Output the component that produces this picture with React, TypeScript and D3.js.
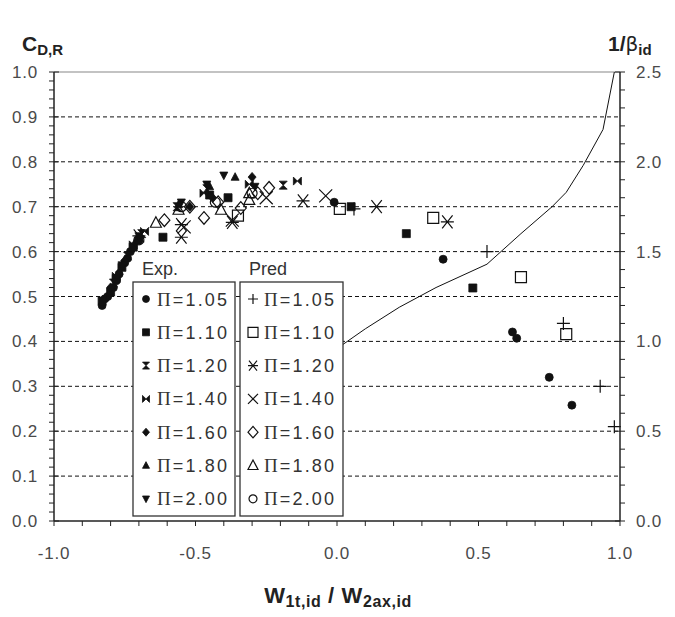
import React from "react";
import * as d3 from "d3";

const W = 675, H = 617;
const xTicks = [-1.0, -0.5, 0.0, 0.5, 1.0];
const yTicksL = [0, 0.1, 0.2, 0.3, 0.4, 0.5, 0.6, 0.7, 0.8, 0.9, 1.0];
const yTicksR = [0, 0.5, 1.0, 1.5, 2.0, 2.5];
const legendLabels = ["Π=1.05", "Π=1.10", "Π=1.20", "Π=1.40", "Π=1.60", "Π=1.80", "Π=2.00"];

// Experimental series (filled markers)
const exp105 = [[-0.83, 0.48], [-0.82, 0.495], [-0.81, 0.50], [-0.79, 0.52], [-0.78, 0.535], [-0.77, 0.55], [-0.75, 0.575], [-0.74, 0.585], [-0.73, 0.60], [-0.70, 0.625], [-0.01, 0.71], [0.375, 0.583], [0.62, 0.421], [0.635, 0.407], [0.75, 0.32], [0.83, 0.258]];
const exp110 = [[-0.83, 0.49], [-0.80, 0.51], [-0.78, 0.54], [-0.76, 0.565], [-0.72, 0.61], [-0.615, 0.632], [-0.45, 0.726], [-0.385, 0.72], [0.05, 0.70], [0.245, 0.64], [0.48, 0.519]];
const exp120 = [[-0.79, 0.53], [-0.74, 0.59], [-0.69, 0.64], [-0.565, 0.70], [-0.46, 0.74], [-0.19, 0.748]];
const exp140 = [[-0.78, 0.545], [-0.72, 0.615], [-0.68, 0.645], [-0.47, 0.73], [-0.31, 0.75], [-0.14, 0.757]];
const exp160 = [[-0.80, 0.52], [-0.75, 0.58], [-0.70, 0.63], [-0.52, 0.70], [-0.44, 0.72], [-0.30, 0.766]];
const exp180 = [[-0.77, 0.555], [-0.71, 0.625], [-0.56, 0.705], [-0.45, 0.745], [-0.36, 0.766]];
const exp200 = [[-0.76, 0.57], [-0.70, 0.635], [-0.55, 0.71], [-0.46, 0.75], [-0.40, 0.77], [-0.29, 0.745]];

// Predicted series (open markers)
const pred105 = [[0.06, 0.695], [0.53, 0.60], [0.80, 0.44], [0.93, 0.30], [0.98, 0.21]];
const pred110 = [[-0.35, 0.68], [0.01, 0.695], [0.34, 0.675], [0.65, 0.543], [0.81, 0.416]];
const pred120 = [[-0.70, 0.635], [-0.55, 0.632], [-0.55, 0.66], [-0.37, 0.665], [-0.12, 0.713], [0.14, 0.70], [0.39, 0.666]];
const pred140 = [[-0.54, 0.655], [-0.37, 0.67], [-0.25, 0.72], [-0.04, 0.724]];
const pred160 = [[-0.61, 0.67], [-0.52, 0.70], [-0.47, 0.675], [-0.42, 0.71], [-0.34, 0.697], [-0.28, 0.73], [-0.24, 0.742]];
const pred180 = [[-0.64, 0.664], [-0.56, 0.693], [-0.41, 0.693], [-0.31, 0.715], [-0.31, 0.73]];
const pred200 = [[-0.70, 0.626], [-0.55, 0.70], [-0.43, 0.71], [-0.30, 0.73]];

// 1/beta_id curve (right axis)
const betaX = [-0.10, 0.0, 0.10, 0.22, 0.35, 0.53, 0.65, 0.76, 0.81, 0.87, 0.94, 0.98];
const betaY = [0.86, 0.96, 1.07, 1.19, 1.30, 1.43, 1.60, 1.75, 1.83, 1.98, 2.18, 2.50];

type Mk = "circle" | "square" | "hourglass" | "bowtie" | "diamond" | "triUp" | "triDown" | "plus" | "sq" | "star" | "cross" | "dia" | "tri" | "ring";

function markerPath(m: Mk, s: number): string {
  const h = s / 2;
  switch (m) {
    case "circle": case "ring": return d3.symbol(d3.symbolCircle, s * s * 0.78)() as string;
    case "square": case "sq": return `M${-h},${-h}H${h}V${h}H${-h}Z`;
    case "hourglass": return `M${-h},${-h}H${h}L0,0L${h},${h}H${-h}L0,0Z`;
    case "bowtie": return `M${-h},${-h}V${h}L0,0L${h},${h}V${-h}L0,0Z`;
    case "diamond": case "dia": return `M0,${-h * 1.15}L${h},0L0,${h * 1.15}L${-h},0Z`;
    case "triUp": case "tri": return `M0,${-h * 1.1}L${h},${h * 0.8}H${-h}Z`;
    case "triDown": return `M0,${h * 1.1}L${h},${-h * 0.8}H${-h}Z`;
    case "plus": return `M${-h},0H${h}M0,${-h}V${h}`;
    case "star": return `M${-h * 0.8},${-h}L${h * 0.8},${h}M${h * 0.8},${-h}L${-h * 0.8},${h}M${-h},0H${h}`;
    case "cross": return `M${-h},${-h}L${h},${h}M${h},${-h}L${-h},${h}`;
  }
  return "";
}

const filledMk: Mk[] = ["circle", "square", "hourglass", "bowtie", "diamond", "triUp", "triDown"];
const openMk: Mk[] = ["plus", "sq", "star", "cross", "dia", "tri", "ring"];
const expData = [exp105, exp110, exp120, exp140, exp160, exp180, exp200];
const predData = [pred105, pred110, pred120, pred140, pred160, pred180, pred200];
const openSize: number[] = [13, 11, 13, 13, 11, 11, 10];

function Marker({ m, x, y, s, open }: { m: Mk; x: number; y: number; s: number; open: boolean }) {
  const lineOnly = m === "plus" || m === "star" || m === "cross";
  return (
    <path
      d={markerPath(m, s)}
      transform={`translate(${x},${y})`}
      fill={open ? (lineOnly ? "none" : "white") : "#111"}
      fillOpacity={open ? 0 : 1}
      stroke="#111"
      strokeWidth={open ? 1.2 : 0.8}
    />
  );
}

export default function App() {
  const x = d3.scaleLinear().domain([-1, 1]).range([54, 620]);
  const y = d3.scaleLinear().domain([0, 1]).range([521, 72]);
  const yR = d3.scaleLinear().domain([0, 2.5]).range([521, 72]);
  const line = d3.line<number>().x((_, i) => x(betaX[i])).y((d) => yR(d));

  const minorX = d3.range(-1, 1.0001, 0.1);
  const minorL = d3.range(0, 1.0001, 0.02);
  const minorR = d3.range(0, 2.5001, 0.1);
  const font = "'Liberation Sans', Arial, sans-serif";
  const tickCol = "#4a4a4a";

  const rowY = (i: number) => 299 + i * 33.3;

  return (
    <svg width={W} height={H} style={{ position: "absolute", left: 0, top: 0 }} fontFamily={font}>
      <rect width={W} height={H} fill="white" />
      {/* gridlines */}
      {yTicksL.filter((v) => v > 0 && v < 1).map((v) => (
        <line key={"g" + v} x1={54} x2={620} y1={y(v)} y2={y(v)} stroke="#111" strokeWidth={1} strokeDasharray="4,3" />
      ))}
      <line x1={54} x2={620} y1={y(1)} y2={y(1)} stroke="#888" strokeWidth={1.2} />

      {/* curve */}
      <path d={line(betaY) as string} fill="none" stroke="#111" strokeWidth={1} />

      {/* data */}
      {expData.map((ser, si) =>
        ser.map((p, i) => <Marker key={`e${si}-${i}`} m={filledMk[si]} x={x(p[0])} y={y(p[1])} s={8} open={false} />)
      )}
      {predData.map((ser, si) =>
        ser.map((p, i) => <Marker key={`p${si}-${i}`} m={openMk[si]} x={x(p[0])} y={y(p[1])} s={openSize[si]} open={true} />)
      )}

      {/* axes */}
      <line x1={54} x2={54} y1={72} y2={521} stroke="#222" strokeWidth={1.5} />
      <line x1={620} x2={620} y1={72} y2={521} stroke="#222" strokeWidth={1.5} />
      <line x1={54} x2={620} y1={521} y2={521} stroke="#222" strokeWidth={1.5} />
      {minorL.map((v, i) => (
        <line key={"ml" + i} x1={49} x2={i % 5 === 0 ? 59 : 54} y1={y(v)} y2={y(v)} stroke="#222" strokeWidth={1} />
      ))}
      {minorR.map((v, i) => (
        <line key={"mr" + i} x1={i % 5 === 0 ? 615 : 620} x2={625} y1={yR(v)} y2={yR(v)} stroke="#222" strokeWidth={1} />
      ))}
      {minorX.map((v, i) => (
        <line key={"mx" + i} x1={x(v)} x2={x(v)} y1={521} y2={526} stroke="#222" strokeWidth={1} />
      ))}

      {/* tick labels */}
      {yTicksL.map((v) => (
        <text key={"tl" + v} x={38} y={y(v) + 6} textAnchor="end" fontSize={17} letterSpacing={0.8} fill={tickCol}>{v.toFixed(1)}</text>
      ))}
      {yTicksR.map((v) => (
        <text key={"tr" + v} x={636} y={yR(v) + 6} textAnchor="start" fontSize={17} letterSpacing={0.8} fill={tickCol}>{v.toFixed(1)}</text>
      ))}
      {xTicks.map((v) => (
        <text key={"tx" + v} x={x(v)} y={559} textAnchor="middle" fontSize={17} letterSpacing={0.8} fill={tickCol}>{v.toFixed(1)}</text>
      ))}

      {/* axis titles */}
      <text x={22} y={51} fontSize={21} fontWeight="bold" fill="#222">C<tspan fontSize={15} dy={4}>D,R</tspan></text>
      <text x={608} y={51} fontSize={21} fontWeight="bold" fill="#222">1/<tspan fontFamily="'DejaVu Sans', sans-serif" fontWeight="normal" fontSize={20}>β</tspan><tspan fontSize={15} dy={4}>id</tspan></text>
      <text x={338} y={603} textAnchor="middle" fontSize={22} fontWeight="bold" fill="#222" letterSpacing={0.6}>
        W<tspan fontSize={16} dy={4}>1t,id</tspan><tspan dy={-4}> / W</tspan><tspan fontSize={16} dy={4}>2ax,id</tspan>
      </text>

      {/* legend */}
      <text x={160} y={275} textAnchor="middle" fontSize={18} fill="#333">Exp.</text>
      <text x={268} y={275} textAnchor="middle" fontSize={18} fill="#333">Pred</text>
      <rect x={133} y={282} width={102} height={234} fill="white" stroke="#333" strokeWidth={1.3} />
      <rect x={240} y={282} width={103} height={234} fill="white" stroke="#333" strokeWidth={1.3} />
      {legendLabels.map((lab, i) => (
        <g key={"lg" + i}>
          <Marker m={filledMk[i]} x={146} y={rowY(i)} s={7} open={false} />
          <text x={157} y={rowY(i) + 6.5} fontSize={18} fill="#333" textLength={70} lengthAdjust="spacing">
            <tspan fontFamily="'Liberation Serif', serif" fontSize={19}>Π</tspan>{lab.slice(1)}
          </text>
          <Marker m={openMk[i]} x={253} y={rowY(i)} s={i === 6 ? 8 : 10} open={true} />
          <text x={264} y={rowY(i) + 6.5} fontSize={18} fill="#333" textLength={70} lengthAdjust="spacing">
            <tspan fontFamily="'Liberation Serif', serif" fontSize={19}>Π</tspan>{lab.slice(1)}
          </text>
        </g>
      ))}
    </svg>
  );
}
